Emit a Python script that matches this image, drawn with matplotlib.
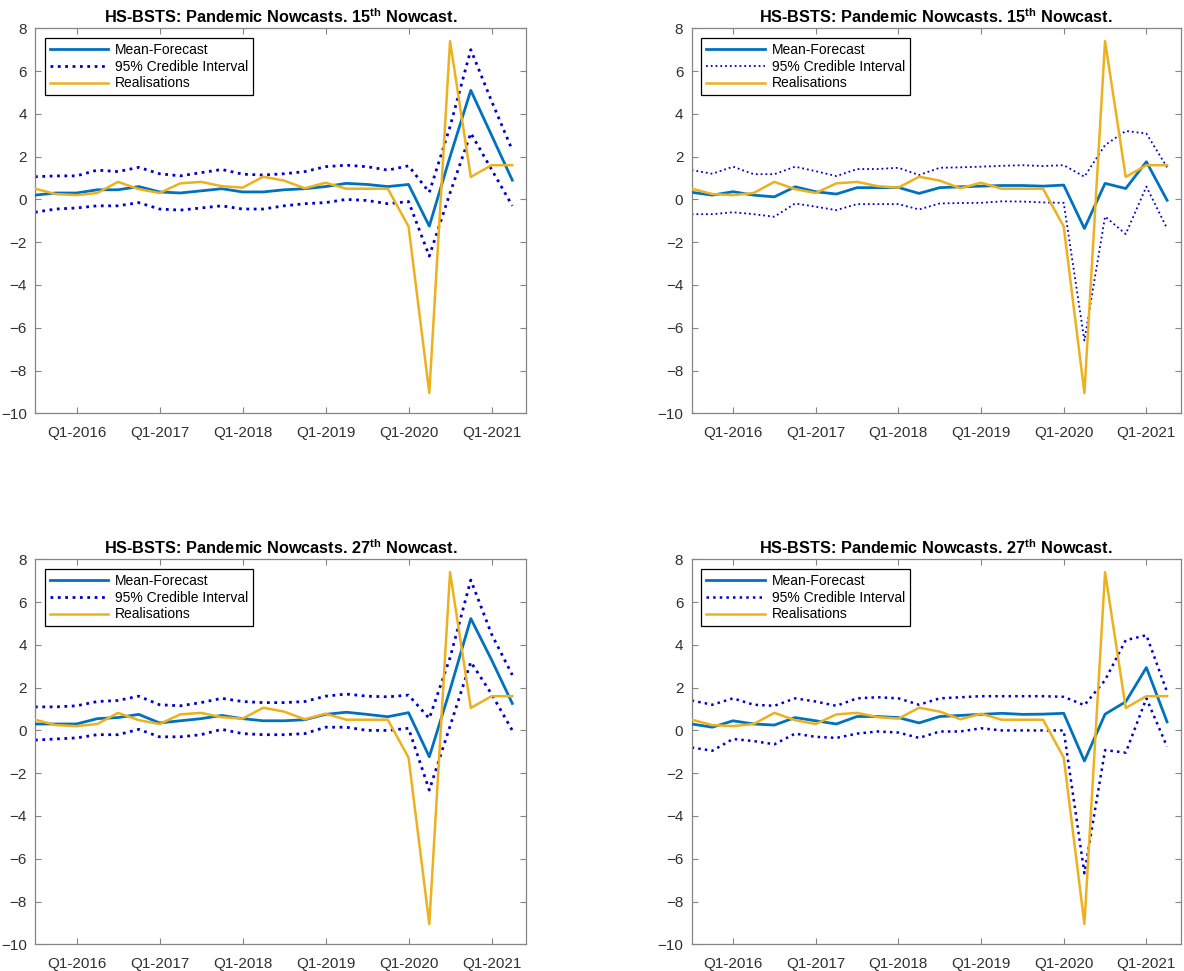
import matplotlib
matplotlib.use("Agg")
import matplotlib.pyplot as plt

plt.rcParams['font.family'] = ['Liberation Sans', 'DejaVu Sans']
plt.rcParams['mathtext.fontset'] = 'custom'
plt.rcParams['mathtext.rm'] = 'Liberation Sans'
plt.rcParams['mathtext.bf'] = 'Liberation Sans:bold'

# Quarters Q3-2015 ... Q2-2021
quarters = ["Q3-2015", "Q4-2015", "Q1-2016", "Q2-2016", "Q3-2016", "Q4-2016",
            "Q1-2017", "Q2-2017", "Q3-2017", "Q4-2017", "Q1-2018", "Q2-2018",
            "Q3-2018", "Q4-2018", "Q1-2019", "Q2-2019", "Q3-2019", "Q4-2019",
            "Q1-2020", "Q2-2020", "Q3-2020", "Q4-2020", "Q1-2021", "Q2-2021"]
tick_labels = ["Q1-2016", "Q1-2017", "Q1-2018", "Q1-2019", "Q1-2020", "Q1-2021"]

realisations = [0.5, 0.25, 0.2, 0.3, 0.82, 0.48, 0.3, 0.75, 0.82, 0.62, 0.55, 1.06,
                0.88, 0.52, 0.78, 0.5, 0.5, 0.5, -1.27, -9.05, 7.4, 1.05, 1.6, 1.6]

# Panel 1: 15th nowcast (left)
p1_mean = [0.2, 0.3, 0.3, 0.45, 0.45, 0.6, 0.35, 0.3, 0.4, 0.5, 0.35, 0.35,
           0.45, 0.5, 0.6, 0.75, 0.7, 0.6, 0.7, -1.25, 2.0, 5.1, 3.0, 0.9]
p1_upper = [1.06, 1.1, 1.1, 1.37, 1.3, 1.5, 1.2, 1.1, 1.25, 1.4, 1.18, 1.14,
            1.2, 1.3, 1.53, 1.6, 1.53, 1.37, 1.57, 0.33, 3.4, 7.0, 4.6, 2.3]
p1_lower = [-0.6, -0.45, -0.4, -0.3, -0.3, -0.15, -0.45, -0.5, -0.4, -0.3, -0.45, -0.45,
            -0.3, -0.2, -0.15, 0.0, -0.05, -0.2, -0.1, -2.65, 0.3, 3.1, 1.4, -0.3]

# Panel 2: 15th nowcast (right)
p2_mean = [0.33, 0.2, 0.36, 0.2, 0.12, 0.59, 0.36, 0.25, 0.55, 0.55, 0.56, 0.28,
           0.55, 0.59, 0.62, 0.65, 0.65, 0.62, 0.67, -1.36, 0.75, 0.51, 1.76, -0.04]
p2_upper = [1.37, 1.2, 1.53, 1.18, 1.18, 1.53, 1.32, 1.09, 1.42, 1.42, 1.48, 1.14,
            1.48, 1.5, 1.53, 1.57, 1.6, 1.56, 1.6, 1.06, 2.54, 3.2, 3.08, 1.5]
p2_lower = [-0.69, -0.69, -0.6, -0.69, -0.81, -0.19, -0.34, -0.5, -0.22, -0.22, -0.22, -0.47,
            -0.19, -0.17, -0.16, -0.09, -0.1, -0.14, -0.16, -6.6, -0.8, -1.62, 0.6, -1.36]

# Panel 3: 27th nowcast (left)
p3_mean = [0.3, 0.3, 0.3, 0.55, 0.6, 0.75, 0.35, 0.45, 0.55, 0.7, 0.55, 0.45,
           0.45, 0.5, 0.75, 0.85, 0.75, 0.64, 0.83, -1.23, 1.9, 5.23, 3.3, 1.26]
p3_upper = [1.1, 1.1, 1.15, 1.35, 1.4, 1.6, 1.2, 1.15, 1.3, 1.5, 1.35, 1.3,
            1.3, 1.35, 1.6, 1.7, 1.6, 1.57, 1.65, 0.56, 3.4, 7.03, 4.5, 2.59]
p3_lower = [-0.45, -0.4, -0.35, -0.2, -0.2, 0.05, -0.3, -0.3, -0.2, 0.05, -0.15, -0.2,
            -0.2, -0.15, 0.15, 0.15, 0.0, 0.0, 0.1, -2.79, 0.2, 3.2, 1.7, 0.0]

# Panel 4: 27th nowcast (right)
p4_mean = [0.3, 0.15, 0.45, 0.3, 0.25, 0.6, 0.45, 0.3, 0.65, 0.65, 0.6, 0.35,
           0.65, 0.7, 0.75, 0.8, 0.75, 0.76, 0.8, -1.43, 0.76, 1.34, 2.94, 0.4]
p4_upper = [1.4, 1.2, 1.5, 1.2, 1.15, 1.5, 1.35, 1.15, 1.5, 1.55, 1.5, 1.2,
            1.5, 1.55, 1.6, 1.6, 1.6, 1.6, 1.57, 1.18, 2.35, 4.22, 4.45, 1.8]
p4_lower = [-0.8, -0.95, -0.4, -0.5, -0.65, -0.15, -0.3, -0.35, -0.15, -0.05, -0.1, -0.35,
            -0.05, -0.05, 0.1, 0.0, 0.0, 0.0, 0.0, -6.68, -0.92, -1.04, 1.5, -0.76]

panels = [
    ("15", p1_mean, p1_upper, p1_lower, 2.0),
    ("15", p2_mean, p2_upper, p2_lower, 1.3),
    ("27", p3_mean, p3_upper, p3_lower, 2.0),
    ("27", p4_mean, p4_upper, p4_lower, 1.8),
]

W, H = 1184, 971
fig = plt.figure(figsize=(W / 100, H / 100), dpi=100)
fig.patch.set_facecolor('white')

boxes = [
    (35, 28.3, 526, 413.3),
    (691.7, 28.3, 1180.7, 413.3),
    (35, 559.3, 526, 944.3),
    (691.7, 559.3, 1180.7, 944.3),
]

x = list(range(len(quarters)))
tick_pos = [quarters.index(t) for t in tick_labels]
gray = '#303030'
edge = '#858585'

for (nth, mean, upper, lower, ci_lw), (x0, y0, x1, y1) in zip(panels, boxes):
    ax = fig.add_axes([x0 / W, 1 - y1 / H, (x1 - x0) / W, (y1 - y0) / H])
    ax.plot(x, mean, color='#0072BD', lw=2.0, label='Mean-Forecast', zorder=3)
    ax.plot(x, upper, color='#0000CC', lw=ci_lw, ls=':', label='95% Credible Interval', zorder=2)
    ax.plot(x, lower, color='#0000CC', lw=ci_lw, ls=':', zorder=2)
    ax.plot(x, realisations, color='#EDB120', lw=1.8, label='Realisations', zorder=4)
    ax.set_xlim(0, 23.66)
    ax.set_ylim(-10, 8)
    ax.set_yticks(range(-10, 9, 2))
    ax.set_xticks(tick_pos)
    ax.set_xticklabels(tick_labels)
    ax.tick_params(direction='in', top=True, right=True, length=4, width=0.8,
                   colors=gray, labelsize=11, color=edge, pad=6)
    ax.tick_params(axis='x', pad=9)
    for s in ax.spines.values():
        s.set_color(edge)
        s.set_linewidth(0.9)
    ax.set_title(r"HS-BSTS: Pandemic Nowcasts. " + nth + r"$^{\bf th}$ Nowcast.",
                 fontsize=11.7, fontweight='bold', color='black', pad=4)
    leg = ax.legend(loc='upper left', fontsize=10, frameon=True, fancybox=False,
                    edgecolor='black', framealpha=1, handlelength=4.2,
                    borderaxespad=0.7, borderpad=0.35, labelspacing=0.2,
                    handletextpad=0.5)
    leg.get_frame().set_linewidth(0.9)

fig.savefig('out.png', dpi=100, facecolor='white')
